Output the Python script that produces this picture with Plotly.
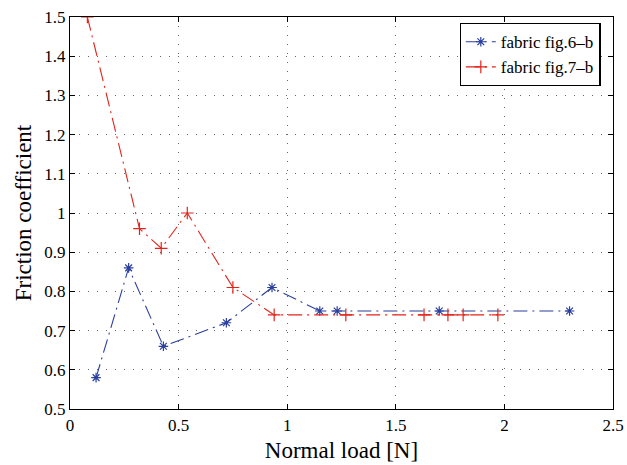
import plotly.graph_objects as go

# Data
blue_x = [0.12, 0.27, 0.43, 0.72, 0.93, 1.15, 1.23, 1.70, 2.30]
blue_y = [0.58, 0.86, 0.66, 0.72, 0.81, 0.75, 0.75, 0.75, 0.75]
red_x = [0.08, 0.32, 0.42, 0.54, 0.75, 0.94, 1.27, 1.63, 1.74, 1.81, 1.97]
red_y = [1.50, 0.96, 0.91, 1.00, 0.81, 0.74, 0.74, 0.74, 0.74, 0.74, 0.74]
x_ticks = [0, 0.5, 1, 1.5, 2, 2.5]
x_tick_text = ["0", "0.5", "1", "1.5", "2", "2.5"]
y_ticks = [0.5, 0.6, 0.7, 0.8, 0.9, 1.0, 1.1, 1.2, 1.3, 1.4, 1.5]
y_tick_text = ["0.5", "0.6", "0.7", "0.8", "0.9", "1", "1.1", "1.2", "1.3", "1.4", "1.5"]
names = ["fabric fig.6\u2013b", "fabric fig.7\u2013b"]

BLUE = "#2b3f9e"
RED = "#e2231a"
FONT = "Liberation Serif, serif"
DASH = "14px,5px,2px,5px"

fig = go.Figure()
fig.add_trace(go.Scatter(
    x=blue_x, y=blue_y, mode="lines+markers", name=names[0],
    line=dict(color=BLUE, width=1.1, dash=DASH),
    marker=dict(symbol="asterisk-open", size=8, color=BLUE, line=dict(color=BLUE, width=1.2)),
))
fig.add_trace(go.Scatter(
    x=red_x, y=red_y, mode="lines+markers", name=names[1],
    line=dict(color=RED, width=1.1, dash=DASH),
    marker=dict(symbol="cross-thin-open", size=9, color=RED, line=dict(color=RED, width=1.2)),
))

axis_common = dict(
    showline=True, linecolor="black", linewidth=1.3, mirror="ticks",
    ticks="inside", ticklen=5, tickcolor="black", tickwidth=1,
    showgrid=True, gridcolor="#666666", griddash="1px,8px", gridwidth=1,
    zeroline=False, automargin=False,
    tickfont=dict(family=FONT, size=17, color="black"),
)

fig.update_layout(
    width=627, height=465,
    margin=dict(l=70, r=14, t=17, b=56),
    paper_bgcolor="white", plot_bgcolor="white",
    font=dict(family=FONT, color="black"),
    xaxis=dict(range=[0, 2.5], tickvals=x_ticks, ticktext=x_tick_text,
               title=dict(text="Normal load [N]", font=dict(family=FONT, size=23), standoff=8),
               **axis_common),
    yaxis=dict(range=[0.5, 1.5], tickvals=y_ticks, ticktext=y_tick_text,
               title=dict(text="Friction coefficient", font=dict(family=FONT, size=23), standoff=6),
               **axis_common),
    legend=dict(x=0.977, y=0.985, xanchor="right", yanchor="top",
                bgcolor="white", bordercolor="black", borderwidth=1.3,
                font=dict(family=FONT, size=17, color="black"),
                tracegroupgap=0, itemwidth=30),
    showlegend=True,
)

fig.write_html("out.html", config={"displayModeBar": False},
               post_script="document.body.style.margin='0';document.body.style.overflow='hidden';")
